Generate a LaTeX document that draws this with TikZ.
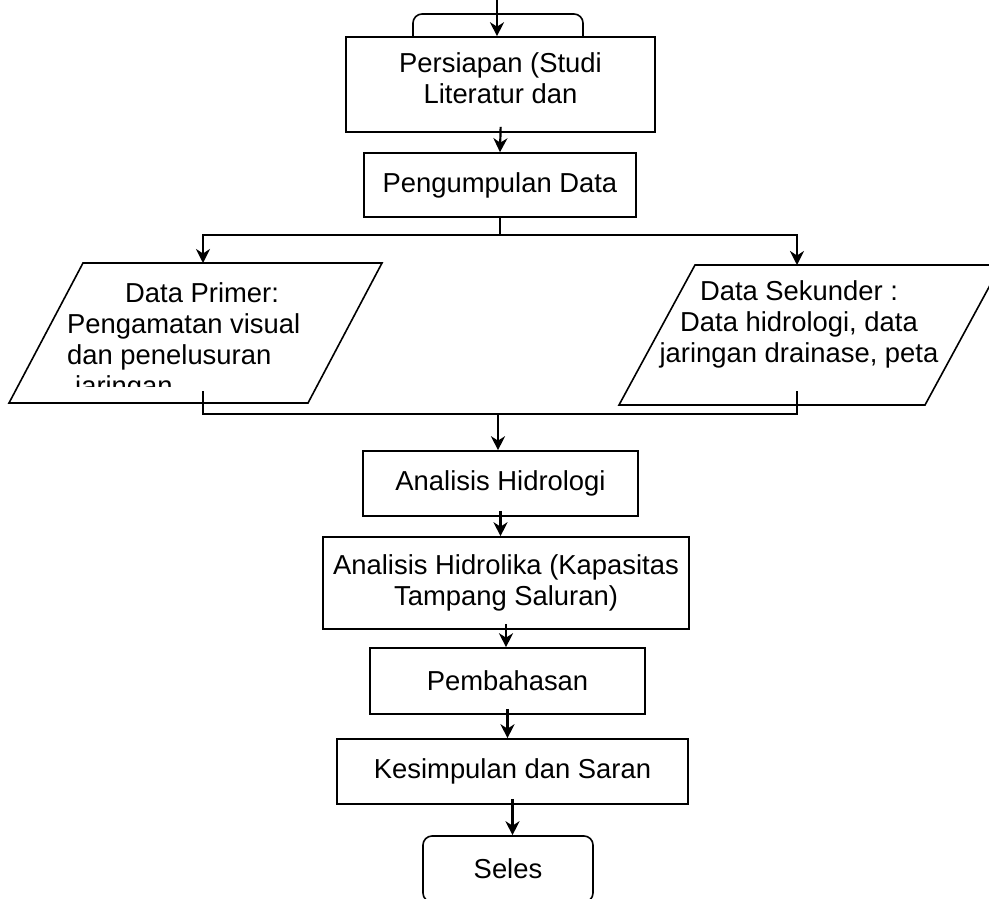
\documentclass[tikz,border=0pt]{standalone}
\usepackage{fontspec}
\setmainfont{Liberation Sans}
\usetikzlibrary{arrows.meta}

\begin{document}
\begin{tikzpicture}[x=1pt,y=1pt,yscale=-1,
  box/.style={draw, line width=1.6pt, fill=white, inner sep=0pt, align=center, font=\fontsize{27.4}{31}\selectfont},
  term/.style={box, rounded corners=9pt},
  txt/.style={inner sep=0pt, font=\fontsize{27.4}{31}\selectfont},
  arr/.style={line width=2.2pt, -{Stealth[length=14pt,width=14pt,inset=4.5pt]}},
  step arr/.style={arr, shorten <=-6pt},
  ln/.style={line width=2.2pt}]
\useasboundingbox (0,0) rectangle (989,898);
\clip (0,0) rectangle (989,898);

% Terminal (top, hidden behind the first box)
\node[term, minimum width=170pt, minimum height=52pt] (mulai) at (498,40) {};
% Process boxes
\node[box, minimum width=309pt, minimum height=95pt] (persiapan) at (500.5,84.5) {};
\node[txt, align=center, anchor=north] (persiapanTxt) at (500.5,52.5) {Persiapan (Studi\\Literatur dan};
\node[box, minimum width=272pt, minimum height=64pt] (pengumpulan) at (500,185) {Pengumpulan Data};

%Parallelogram (data primer)
\draw [line width=1.6pt] (83,263) -- (382,263) -- (308,403) -- (9,403) -- cycle;
\coordinate (primerTop) at (203,263);
\coordinate (primerBot) at (203,391);
\begin{scope}
\clip (0,0) rectangle (989,386);
\node[txt, align=left, anchor=north west] (primer) at (67,282.4) {\hspace*{58pt}Data Primer:\\Pengamatan visual\\dan penelusuran\\\hspace*{8pt}jaringan};
\end{scope}

%Parallelogram (data sekunder)
\draw [line width=1.6pt] (695,265) -- (1001,265) -- (925,405) -- (619,405) -- cycle;
\coordinate (sekunderTop) at (797,265);
\coordinate (sekunderBot) at (797,391);
\node[txt, align=center, anchor=north] (sekunder) at (799,280.4) {Data Sekunder :\\Data hidrologi, data\\jaringan drainase, peta};

\node[box, minimum width=275pt, minimum height=65pt] (hidrologi) at (500.5,483.5) {Analisis Hidrologi};
\node[box, minimum width=366pt, minimum height=92pt] (hidrolika) at (506,583) {Analisis Hidrolika (Kapasitas\\Tampang Saluran)};
\node[box, minimum width=275pt, minimum height=66pt] (pembahasan) at (507.5,681) {Pembahasan};
\node[box, minimum width=351pt, minimum height=65pt] (kesimpulan) at (512.5,771.5) {Kesimpulan dan Saran};
% Terminal (end)
\node[term, minimum width=170pt, minimum height=66pt] (seles) at (508,869) {Seles};

% Connection
\coordinate (masuk) at (497,0);
\draw [arr] (masuk) -- (masuk |- persiapan.north);
\draw [step arr] (persiapan.south) -- (pengumpulan.north);
\coordinate (split) at (500,235);
\draw [ln] (pengumpulan.south) -- (split);
\draw [arr] (split) -| (primerTop);
\draw [arr] (split) -| (sekunderTop);
\coordinate (merge) at (498,414);
\draw [ln] (primerBot) |- (merge);
\draw [ln] (sekunderBot) |- (merge);
\draw [arr] (merge) -- (merge |- hidrologi.north);
\draw [step arr] (hidrologi.south) -- (hidrologi.south |- hidrolika.north);
\draw [step arr] (hidrolika.south) -- (hidrolika.south |- pembahasan.north);
\draw [step arr] (pembahasan.south) -- (pembahasan.south |- kesimpulan.north);
\draw [step arr] (kesimpulan.south) -- (kesimpulan.south |- seles.north);

\end{tikzpicture}
\end{document}
